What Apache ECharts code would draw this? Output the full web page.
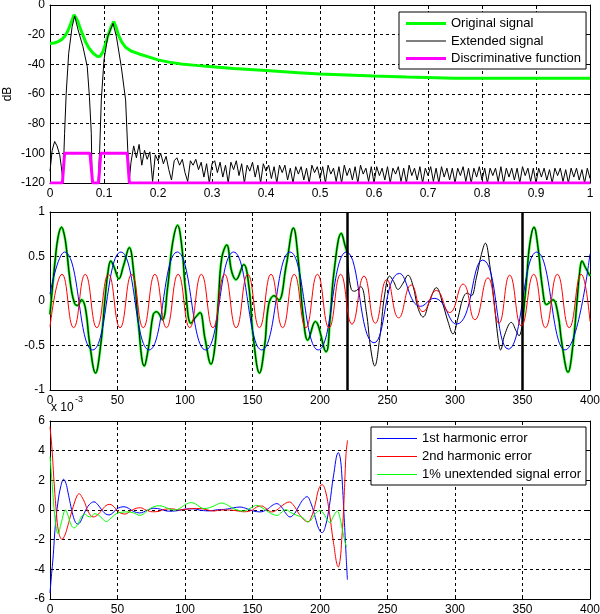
<!DOCTYPE html>
<html><head><meta charset="utf-8">
<script src="https://cdn.jsdelivr.net/npm/echarts/dist/echarts.min.js"></script>
<style>html,body{margin:0;padding:0;background:#fff;}#c{width:600px;height:614px;}</style>
</head><body><div id="c"></div>
<script>
// ---------- Panel 1: spectrum (dB vs normalized frequency) ----------
const specOriginal = [[0,-25.9],[0.008,-25.6],[0.015,-24.7],[0.022,-23.2],[0.028,-20.8],[0.033,-17.5],[0.038,-13],[0.0445,-6.5],[0.047,-6.8],[0.051,-10.5],[0.055,-14.6],[0.06,-19.5],[0.066,-25],[0.072,-29],[0.08,-32.5],[0.088,-34.8],[0.093,-34.5],[0.098,-31.5],[0.103,-26],[0.108,-20],[0.113,-14.8],[0.118,-11.2],[0.122,-14.5],[0.127,-20.5],[0.133,-25],[0.14,-28.5],[0.15,-31],[0.165,-33],[0.181,-34.8],[0.2,-37],[0.22,-38.5],[0.243,-39.8],[0.27,-40.7],[0.3,-41.6],[0.34,-42.8],[0.4,-44.2],[0.46,-45.6],[0.5,-46.5],[0.55,-47.2],[0.6,-47.9],[0.66,-48.5],[0.75,-49.3],[0.85,-49.4],[1,-49.4]];
const specExtendedPeaks = [[0,-112],[0.004,-98],[0.0086,-92],[0.013,-95],[0.018,-101],[0.021,-109],[0.024,-119],[0.027,-86.5],[0.030,-59.5],[0.0346,-32.6],[0.041,-14.6],[0.0457,-7.4],[0.052,-16.8],[0.061,-28.1],[0.069,-41.6],[0.073,-61.8],[0.0765,-86.5],[0.078,-120],[0.089,-120],[0.092,-97.7],[0.095,-64],[0.1,-37],[0.107,-21.3],[0.1167,-12.4],[0.123,-21.3],[0.132,-41.6],[0.14,-64],[0.144,-97.7],[0.1475,-115.6]];
// extended-signal floor, sampled every 0.005 from 0.150 to 1.000
const specFloorStart = 0.15, specFloorStep = 0.005;
const specExtendedFloor = [
-106,-95,-103,-94,-108,-98,-104,-99,-119,-101,
-105,-100,-107,-102,-111,-118,-105,-103,-108,-104,
-113,-119,-105,-108,-104,-111,-106,-116,-107,-120,
-107,-105,-113,-106,-116,-108,-120,-106,-111,-105,
-115,-107,-120,-108,-112,-106,-116,-108,-120,-107,
-112,-108,-117,-109,-120,-108,-113,-108,-118,-110,
-120,-109,-114,-109,-118,-110,-120,-108,-113,-109,
-117,-109,-120,-108,-114,-110,-119,-109,-120,-108,
-115,-110,-118,-109,-120,-108,-114,-110,-119,-109,
-120,-109,-115,-110,-118,-109,-120,-110,-114,-109,
-119,-110,-120,-108,-115,-110,-118,-109,-120,-110,
-115,-109,-119,-110,-120,-109,-116,-110,-118,-110,
-120,-110,-115,-109,-119,-110,-120,-110,-116,-109,
-118,-110,-120,-110,-115,-110,-119,-109,-120,-110,
-116,-110,-118,-110,-120,-109,-115,-110,-119,-110,
-120,-110,-116,-110,-118,-111,-120,-110,-115,-110,
-119,-111,-120,-110,-116,-110,-118,-111,-120,-110,
-117];
const discrimFn = [[0,-120],[0.023,-120],[0.027,-100],[0.074,-100],[0.079,-120],[0.09,-120],[0.094,-100],[0.143,-100],[0.147,-120],[1,-120]];
const topLegend = ['Original signal','Extended signal','Discriminative function'];

// ---------- Panel 2: time signals ----------
const origSignalA = [[0,-0.15],[1.5,0.1],[3.5,0.41],[6,0.72],[8.6,0.83],[10.5,0.75],[12.1,0.6],[15.3,0.18],[18.3,-0.03],[20.5,-0.05],[23.3,0.015],[26.2,-0.08],[29.5,-0.49],[33.7,-0.81],[37.6,-0.49],[40.6,0],[43,0.33],[45,0.45],[47.5,0.38],[51,0.25],[54.5,0.4],[58.7,0.6],[62.4,0.26],[65.3,-0.23],[69.8,-0.73],[73.3,-0.49],[76.5,-0.15],[79,-0.12],[83.2,-0.21],[87.1,0.15],[90.6,0.63],[94.5,0.85],[97.5,0.63],[100.5,0.11],[104.4,-0.25],[108,-0.18],[111.1,-0.13],[114.8,-0.42],[119.3,-0.71],[122.3,-0.49],[124.7,0],[127.2,0.48],[130.9,0.63],[134.6,0.33],[137.8,0.24],[143.5,0.41],[147.2,0.18],[150.4,-0.38],[155.2,-0.81],[159,-0.5],[162,-0.04],[166,0.06],[169.5,0.01],[175,0.4],[180.3,0.82],[184,0.45],[187.4,-0.15],[191,-0.44],[196.5,-0.23],[204.5,-0.57],[207.3,-0.23],[210.4,0.33],[215.8,0.76],[218.8,0.61],[220,0.55]];
const extendedGap = [[221.2,0.33],[223.2,0.13],[225.7,0.11],[230.1,0.16],[234.3,-0.12],[237.5,-0.53],[240.5,-0.73],[244.2,-0.42],[247.9,0.07],[251.6,0.28],[254.5,0.22],[257.8,0.13],[261.5,0.2],[265.2,0.29],[268.9,0.17],[272.6,-0.08],[276.3,-0.18],[281.2,0],[286.2,0.15],[291.1,-0.04],[294.8,-0.23],[298.5,-0.37],[302.2,-0.19],[305.9,0.03],[309.1,0.09],[312.1,0.06],[315.8,0.26],[319.5,0.52],[322.5,0.65],[325.7,0.41],[328.9,0],[331.9,-0.42],[333.8,-0.55],[336.8,-0.38],[341.7,-0.24],[345.4,-0.34],[347.4,-0.39],[349.5,-0.3]];
const origSignalB = [[350.4,-0.19],[352.9,0.22],[355.3,0.63],[358.5,0.83],[361.5,0.6],[364.5,0.18],[367.7,-0.04],[370,-0.02],[372.6,0.015],[376.3,-0.15],[379.3,-0.49],[383.7,-0.8],[387.4,-0.49],[390.4,0],[392.4,0.33],[394.1,0.45],[396.5,0.38],[400,0.28]];
const firstHarmonic = [[0,0.08],[10.7,0.55],[31.6,-0.55],[52.5,0.55],[73.4,-0.55],[94.3,0.55],[115.2,-0.55],[136,0.55],[156.9,-0.55],[177.8,0.55],[198.7,-0.55],[219.6,0.55],[240,-0.47],[258.8,0.31],[274.5,-0.06],[284.5,0.03],[301,-0.26],[320.5,0.46],[339.5,-0.54],[360.6,0.55],[381.5,-0.55],[400,0.53]];
const secondHarmonic = [[0,-0.29],[8.9,0.3],[17.5,-0.3],[26.1,0.3],[34.7,-0.3],[43.3,0.3],[51.9,-0.3],[60.5,0.3],[69.1,-0.3],[77.7,0.3],[86.3,-0.3],[94.9,0.3],[103.5,-0.3],[112.1,0.3],[120.7,-0.3],[129.3,0.3],[137.9,-0.3],[146.5,0.3],[155.1,-0.3],[163.7,0.3],[172.3,-0.3],[180.9,0.3],[189.5,-0.3],[198.1,0.3],[206.7,-0.3],[215.3,0.3],[223.7,-0.26],[232.6,0.28],[241,-0.25],[249.5,0.24],[258.3,-0.19],[267.6,0.18],[276.3,-0.12],[286.2,0.12],[296,-0.13],[306,0.19],[314.7,-0.21],[324.4,0.26],[332.5,-0.25],[340.5,0.29],[349.1,-0.28],[358.3,0.3],[367,-0.3],[375.8,0.3],[384.6,-0.3],[393.4,0.3],[400,-0.23]];
const gapBounds = [220, 350];

// ---------- Panel 3: errors (x 10^-3) ----------
const err1st = [[0,-5.6],[1.2,-4.3],[2.2,-3.3],[4,-1.0],[5.9,0.54],[7.9,1.55],[10.1,2.07],[11.8,1.8],[13.3,1.2],[15,0.45],[17,-0.36],[19,-0.85],[20.7,-0.95],[22.5,-0.8],[25.7,-0.15],[29,0.35],[32.6,0.55],[35.5,0.35],[38,0.05],[41,-0.25],[43.7,-0.33],[46.5,-0.2],[49.1,0.05],[52,0.18],[54.8,0.22],[58,0.12],[62,-0.1],[66.4,-0.2],[72,-0.02],[77,0.12],[82,0.05],[88,-0.08],[94,-0.05],[100,0.06],[106,0.08],[112,-0.02],[118,-0.06],[124,0.02],[130,0.05],[136,0.15],[140.7,0.2],[146,0.08],[150,-0.05],[155.5,-0.13],[161,0.05],[164.5,0.3],[168,0.43],[171.5,0.2],[174.5,-0.2],[177.8,-0.47],[181,-0.25],[184,0.2],[187,0.65],[190.3,0.9],[193.5,0.4],[196.5,-0.5],[199,-1.25],[201.5,-1.53],[204,-1.1],[207,0.3],[210,2.3],[213.6,3.87],[215,3.5],[216.1,2.45],[217.9,-0.5],[219.3,-3.0],[220.3,-4.7]];
const err2nd = [[0,5.6],[1.5,4.1],[3,1.9],[4.7,-0.13],[6.4,-1.48],[8.9,-1.98],[11,-1.7],[13.3,-1.03],[15.5,-0.3],[17.8,0.4],[20,0.95],[21.6,1.1],[23.5,0.9],[25.7,0.5],[28.5,-0.15],[32,-0.47],[35,-0.35],[38.5,0],[41.5,0.3],[44.4,0.38],[47.5,0.2],[51,-0.15],[55.6,-0.27],[60,-0.05],[64,0.12],[67,0.15],[71,0],[76,-0.12],[80,-0.1],[85,0.05],[90,0.08],[96,0],[101,0.05],[106,0.1],[111,0.1],[116,0.02],[121,-0.07],[127,0],[133,0],[138,-0.05],[144,-0.12],[150,0],[153,0.2],[156.8,0.27],[160,0.1],[164.2,-0.13],[168,0],[172,0.3],[177.3,0.54],[181,0.25],[184,-0.2],[187.5,-0.6],[191,-0.8],[193.5,-0.5],[196.5,0.4],[199,1.4],[201.5,1.71],[204,1.3],[207,-0.2],[210,-2.2],[213.6,-3.84],[215,-3.3],[216.1,-2.0],[217.3,-0.3],[218.3,1.8],[219.3,3.8],[220.4,4.7]];
const errUnext = [[0,3.6],[1.5,1.9],[3,0.1],[4.7,-1.26],[5.9,-1.6],[7.9,-1.03],[10.4,-0.13],[11.4,0],[13.3,-0.36],[15.8,-1.03],[17.8,-1.21],[20.7,-0.92],[23.2,-0.47],[25.7,-0.29],[28.1,-0.42],[29.8,-0.47],[31.5,-0.35],[33.1,-0.25],[36,-0.35],[39,-0.6],[41.7,-0.78],[44,-0.65],[47,-0.4],[49.1,-0.25],[53,-0.15],[57.8,-0.13],[62,-0.2],[66.4,-0.36],[69.5,-0.25],[72.6,0],[77,0.22],[81.2,0.29],[85,0.2],[89,0.05],[92.3,0],[96,0.1],[100,0.35],[104.7,0.5],[108,0.4],[111.1,0.2],[114,0.1],[118,0.15],[122,0.3],[127.2,0.47],[131,0.35],[135.8,0.1],[140,-0.03],[143.2,-0.07],[147,0.05],[150,0.2],[153,0.31],[157,0.15],[160.5,-0.05],[164,-0.25],[168.4,-0.36],[171,-0.2],[174.8,0.02],[178,-0.15],[182.7,-0.36],[187,-0.5],[191.3,-0.8],[194,-0.6],[196.5,-0.25],[200,-0.03],[203.5,-0.35],[205.5,-0.7],[207.4,-0.86],[209.5,-0.5],[211.8,-0.15],[213,-0.1],[214.7,-0.5],[216.3,-1.2],[217.9,-1.9],[219.6,-2.5]];
const bottomLegend = ['1st harmonic error','2nd harmonic error','1% unextended signal error'];
const scaleNote = ['x 10', '-3'];

// ---------- build chart ----------
const FONT = '"Liberation Sans", Arial, Helvetica, sans-serif';
const grids = [
  {left:50, top:5, width:540, height:178},
  {left:50, top:212, width:540, height:178},
  {left:50, top:421, width:540, height:178}
];
function mkX(gi, min, max, interval, main) {
  return {type:'value', gridIndex:gi, min:min, max:max, interval:interval, position: main ? 'bottom' : 'top',
    axisLine:{show:true, onZero:false, lineStyle:{color:'#000', width:1}},
    axisTick:{show:true, inside:true, length:4, lineStyle:{color:'#000', width:1}},
    axisLabel:{show:main, color:'#000', fontSize:12, fontFamily:FONT, margin:5},
    splitLine:{show:main, lineStyle:{color:'#000', type:[3,3], width:1}},
    minorTick:{show:false}};
}
function mkY(gi, min, max, interval, main, name) {
  const a = {type:'value', gridIndex:gi, min:min, max:max, interval:interval, position: main ? 'left' : 'right',
    axisLine:{show:true, onZero:false, lineStyle:{color:'#000', width:1}},
    axisTick:{show:true, inside:true, length:4, lineStyle:{color:'#000', width:1}},
    axisLabel:{show:main, color:'#000', fontSize:12, fontFamily:FONT, margin:5},
    splitLine:{show:main, lineStyle:{color:'#000', type:[3,3], width:1}},
    minorTick:{show:false}};
  if (name) {
    a.name = name; a.nameLocation = 'middle'; a.nameGap = 36; a.nameRotate = 90;
    a.nameMoveOverlap = false;
    a.nameTextStyle = {color:'#000', fontSize:12, fontFamily:FONT};
  }
  return a;
}
const thick = 'path://M0,0H40V3H0Z', thin = 'path://M0,0H40V1H0Z';
function lineSeries(name, data, xi, color, width, smooth, z) {
  return {type:'line', name:name, data:data, xAxisIndex:xi, yAxisIndex:xi, symbol:'none', showSymbol:false,
    smooth:smooth, smoothMonotone: null, lineStyle:{color:color, width:width}, itemStyle:{color:color},
    clip:true, z:z, animation:false, silent:true};
}
const floorPairs = specExtendedFloor.map((v, i) => [Number((specFloorStart + i * specFloorStep).toFixed(3)), v]);

const option = {
  animation:false, backgroundColor:'#fff',
  textStyle:{fontFamily:FONT},
  grid: grids.map(g => Object.assign({outerBoundsMode:'none', containLabel:false}, g)),
  xAxis:[mkX(0,0,1,0.1,true), mkX(0,0,1,0.1,false), mkX(1,0,400,50,true), mkX(1,0,400,50,false), mkX(2,0,400,50,true), mkX(2,0,400,50,false)],
  yAxis:[mkY(0,-120,0,20,true,'dB'), mkY(0,-120,0,20,false), mkY(1,-1,1,0.5,true), mkY(1,-1,1,0.5,false), mkY(2,-6,6,2,true), mkY(2,-6,6,2,false)],
  legend:[
    {data:[{name:topLegend[0], icon:thick},{name:topLegend[1], icon:thin},{name:topLegend[2], icon:thick}],
     orient:'vertical', left:399, top:12, padding:[5,5,4,7], itemGap:4.5, itemWidth:40, itemHeight:14,
     borderColor:'#000', borderWidth:1, borderRadius:0, backgroundColor:'#fff', selectedMode:false,
     textStyle:{fontSize:13, color:'#000', fontFamily:FONT}},
    {data:[{name:bottomLegend[0], icon:thin},{name:bottomLegend[1], icon:thin},{name:bottomLegend[2], icon:thin}],
     orient:'vertical', left:371, top:427, padding:[5,5,4,6], itemGap:5, itemWidth:40, itemHeight:14,
     borderColor:'#000', borderWidth:1, borderRadius:0, backgroundColor:'#fff', selectedMode:false,
     textStyle:{fontSize:13, color:'#000', fontFamily:FONT}}
  ],
  graphic:[
    {type:'text', left:51, top:402, style:{text:scaleNote[0], font:'12px ' + FONT, fill:'#000'}},
    {type:'text', left:75, top:395, style:{text:scaleNote[1], font:'9px ' + FONT, fill:'#000'}}
  ],
  series:[
    lineSeries(topLegend[0], specOriginal, 0, '#00ff00', 3, false, 2),
    lineSeries(topLegend[1], specExtendedPeaks.concat(floorPairs), 0, '#000000', 1, false, 3),
    lineSeries(topLegend[2], discrimFn, 0, '#ff00ff', 3, false, 4),

    lineSeries('orig-a', origSignalA, 2, '#00ff00', 2.5, 0.4, 2),
    lineSeries('orig-b', origSignalB, 2, '#00ff00', 2.5, 0.4, 2),
    lineSeries('extended', origSignalA.concat(extendedGap, origSignalB), 2, '#000000', 1, 0.4, 3),
    lineSeries('harm1', firstHarmonic, 2, '#0000ff', 1, 0.5, 4),
    lineSeries('harm2', secondHarmonic, 2, '#ff0000', 1, 0.5, 5),
    {type:'line', name:'bounds', xAxisIndex:2, yAxisIndex:2, data:[], silent:true, z:6,
     markLine:{symbol:'none', silent:true, animation:false, label:{show:false},
       lineStyle:{color:'#000', width:2.5, type:'solid'},
       data: gapBounds.map(v => ({xAxis:v}))}},

    lineSeries(bottomLegend[0], err1st, 4, '#0000ff', 1, 0.4, 2),
    lineSeries(bottomLegend[1], err2nd, 4, '#ff0000', 1, 0.4, 3),
    lineSeries(bottomLegend[2], errUnext, 4, '#00ff00', 1, 0.4, 4)
  ]
};
const chart = echarts.init(document.getElementById('c'), null, {renderer:'canvas'});
chart.setOption(option);
</script></body></html>
